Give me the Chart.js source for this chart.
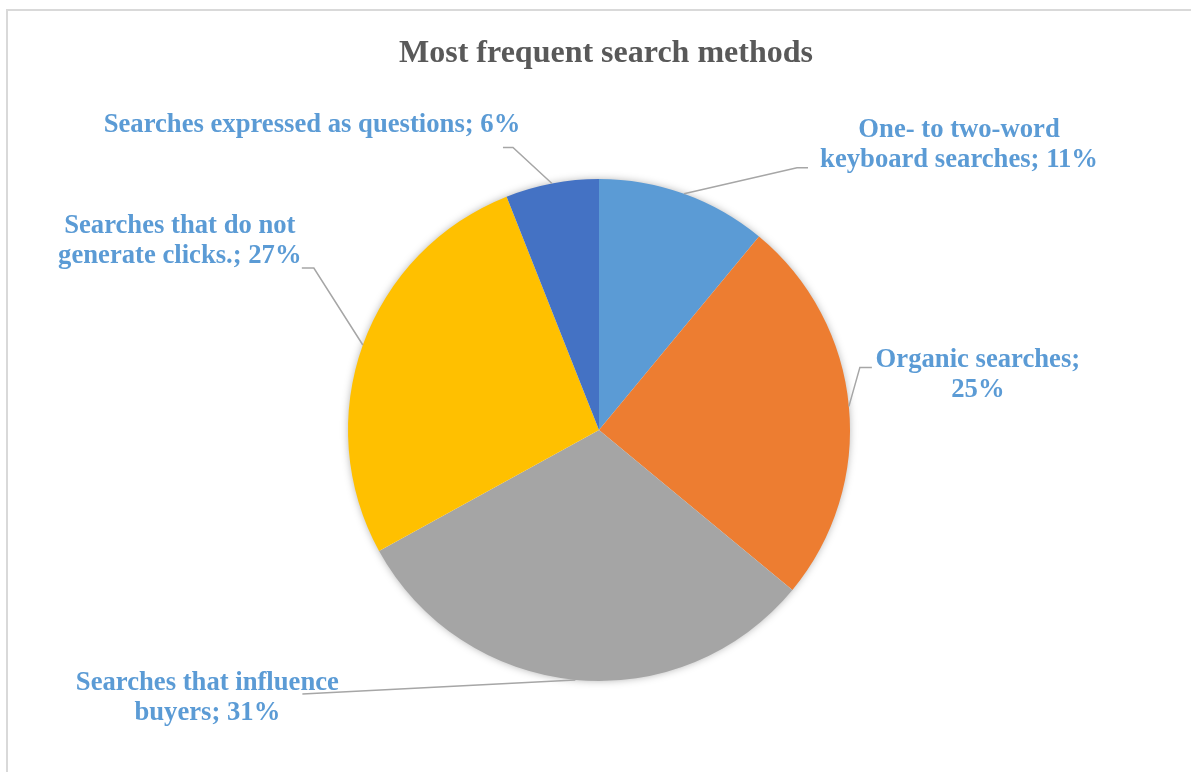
<!DOCTYPE html>
<html lang="en">
<head>
<meta charset="UTF-8" />
<title>Most frequent search methods</title>
<style>
  html, body { margin: 0; padding: 0; background: #fff; overflow: hidden; }
  #wrap { position: relative; width: 1191px; height: 772px; }
</style>
</head>
<body>
  <div id="wrap"><canvas id="pieChart" width="1191" height="772"></canvas></div>

  <script src="https://cdn.jsdelivr.net/npm/chart.js"></script>
  <script>
  // Slices, clockwise from 12 o'clock
  const categories = [
    'One- to two-word keyboard searches',
    'Organic searches',
    'Searches that influence buyers',
    'Searches that do not generate clicks.',
    'Searches expressed as questions'
  ];
  const shares = [11, 25, 31, 27, 6];
  const sliceColors = ['#5B9BD5', '#ED7D31', '#A5A5A5', '#FFC000', '#4472C4'];

  const TITLE = 'Most frequent search methods';
  const LABEL_FONT = 'bold 26.67px "Liberation Serif", "Times New Roman", serif';
  const TITLE_FONT = 'bold 32px "Liberation Serif", "Times New Roman", serif';

  // Callout placement, relative to the middle of each slice's outer edge:
  // elbow of the leader line, length of the short tail, first text baseline, wrap width
  const callouts = [
    { elbow: [113, -26], tail: 11,  text: [275, -57],  wrap: 285 },
    { elbow: [11, -39],  tail: 12,  text: [129, -39],  wrap: 215 },
    { elbow: [-273, 14], tail: 0,   text: [-368, 10],  wrap: 275 },
    { elbow: [-49, -77], tail: -12, text: [-183, -112], wrap: 250 },
    { elbow: [-39, -36], tail: -10, text: [-240, -51], wrap: 600 }
  ];

  function wrapText(ctx, str, maxWidth){
    const words = str.split(' ');
    const lines = [];
    let line = '';
    words.forEach(w => {
      const test = line ? line + ' ' + w : w;
      if(line && ctx.measureText(test).width > maxWidth){
        lines.push(line);
        line = w;
      } else {
        line = test;
      }
    });
    if(line) lines.push(line);
    return lines;
  }

  const decorations = {
    id: 'decorations',
    beforeDraw(chart){
      const ctx = chart.ctx;
      ctx.save();
      // frame of the chart box
      ctx.strokeStyle = '#D9D9D9';
      ctx.lineWidth = 2;
      ctx.strokeRect(7, 10, 1400, 1000);
      // title
      ctx.fillStyle = '#595959';
      ctx.font = TITLE_FONT;
      ctx.textAlign = 'center';
      ctx.textBaseline = 'alphabetic';
      ctx.fillText(TITLE, 606, 62);
      ctx.restore();
    },
    beforeDatasetsDraw(chart){
      // soft shadow under the whole pie
      const arc = chart.getDatasetMeta(0).data[0];
      if(!arc) return;
      const ctx = chart.ctx;
      ctx.save();
      ctx.shadowColor = 'rgba(0,0,0,0.35)';
      ctx.shadowBlur = 9;
      ctx.fillStyle = '#ffffff';
      ctx.beginPath();
      ctx.arc(arc.x, arc.y, arc.outerRadius - 1, 0, Math.PI * 2);
      ctx.fill();
      ctx.restore();
    },
    afterDatasetsDraw(chart){
      const ctx = chart.ctx;
      const meta = chart.getDatasetMeta(0);
      ctx.save();
      meta.data.forEach((arc, i) => {
        const c = callouts[i];
        const mid = (arc.startAngle + arc.endAngle) / 2;
        const ax = arc.x + Math.cos(mid) * arc.outerRadius;
        const ay = arc.y + Math.sin(mid) * arc.outerRadius;
        const ex = ax + c.elbow[0], ey = ay + c.elbow[1];

        ctx.strokeStyle = '#A6A6A6';
        ctx.lineWidth = 1.5;
        ctx.beginPath();
        ctx.moveTo(ax, ay);
        ctx.lineTo(ex, ey);
        if(c.tail) ctx.lineTo(ex + c.tail, ey);
        ctx.stroke();

        ctx.font = LABEL_FONT;
        ctx.fillStyle = '#5B9BD5';
        ctx.textAlign = 'center';
        ctx.textBaseline = 'alphabetic';
        const text = categories[i] + '; ' + shares[i] + '%';
        wrapText(ctx, text, c.wrap).forEach((ln, k) => {
          ctx.fillText(ln, ax + c.text[0], ay + c.text[1] + k * 30);
        });
      });
      ctx.restore();
    }
  };

  new Chart(document.getElementById('pieChart').getContext('2d'), {
    type: 'pie',
    data: {
      labels: categories,
      datasets: [{
        data: shares,
        backgroundColor: sliceColors,
        borderWidth: 0,
        hoverOffset: 0,
        offset: 0
      }]
    },
    options: {
      responsive: false,
      animation: false,
      events: [],
      layout: { padding: { left: 348, right: 341, top: 179, bottom: 91 } },
      plugins: {
        legend: { display: false },
        title: { display: false },
        tooltip: { enabled: false }
      }
    },
    plugins: [decorations]
  });
  </script>
</body>
</html>
